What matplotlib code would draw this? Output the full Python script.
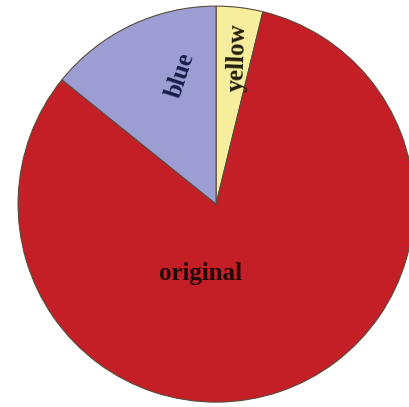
import matplotlib.pyplot as plt

labels = ["yellow", "original", "blue"]
shares = [3.8, 82.0, 14.2]
colors = ["#f6ee9c", "#c41f26", "#9c9ed3"]

fig = plt.figure(figsize=(4.10, 4.07), dpi=100)
ax = fig.add_axes([0.044, 0.012, 0.966, 0.973])

wedges, texts = ax.pie(shares, labels=labels, colors=colors, startangle=90,
                       counterclock=False, labeldistance=0.75,
                       wedgeprops=dict(edgecolor="#5a4a3a", linewidth=0.8))

# label placement as in the reference
pos = {"yellow": (0.11, 0.74, 88, "#221c0c"),
       "original": (-0.08, -0.35, 0, "#240808"),
       "blue": (-0.18, 0.65, 72, "#181c48")}
for t in texts:
    x, y, rot, c = pos[t.get_text()]
    t.set_position((x, y))
    t.set_rotation(rot)
    t.set_ha("center")
    t.set_va("center")
    t.set_color(c)
    t.set_fontfamily("Liberation Serif")
    t.set_fontweight("bold")
    t.set_fontsize(18)

ax.set_xlim(-1.0, 1.0)
ax.set_ylim(-1.0, 1.0)
ax.set_aspect("equal")

plt.savefig("out.png", dpi=100)
